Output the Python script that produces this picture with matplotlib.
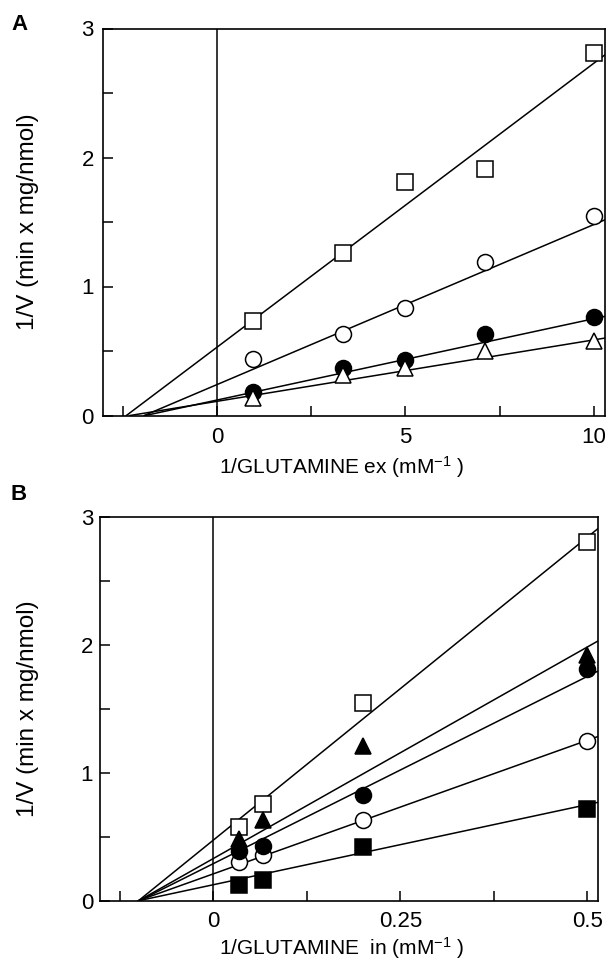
import matplotlib
matplotlib.use("Agg")
import matplotlib.pyplot as plt
import numpy as np

plt.rcParams['font.family'] = ['Liberation Sans', 'DejaVu Sans']
plt.rcParams['mathtext.fontset'] = 'custom'
plt.rcParams['mathtext.rm'] = 'Liberation Sans'
plt.rcParams['mathtext.it'] = 'Liberation Sans:italic'

# ---------------- Panel A data ----------------
a_x = [0.96, 3.33, 5.0, 7.11, 10.0]
a_sq_open = [0.735, 1.26, 1.81, 1.91, 2.81]
a_circ_open = [0.44, 0.63, 0.83, 1.19, 1.55]
a_circ_fill = [0.18, 0.365, 0.43, 0.63, 0.76]
a_tri_open = [0.135, 0.315, 0.37, 0.50, 0.58]
# fitted lines (slope, intercept)
a_slopes = [0.220, 0.1240, 0.0630, 0.0476]
a_intercepts = [0.530, 0.240, 0.120, 0.110]

# ---------------- Panel B data ----------------
b_x = [0.034, 0.067, 0.2, 0.5]
b_sq_open = [0.58, 0.76, 1.55, 2.81]
b_tri_fill = [0.48, 0.63, 1.21, 1.92]
b_circ_fill = [0.39, 0.43, 0.83, 1.81]
b_circ_open = [0.30, 0.36, 0.63, 1.25]
b_sq_fill = [0.12, 0.165, 0.42, 0.72]
b_slopes = [4.74, 3.31, 2.93, 2.09, 1.254]
b_intercepts = [0.474, 0.33, 0.29, 0.21, 0.125]

W, H = 610, 966
fig = plt.figure(figsize=(W / 100, H / 100), dpi=100)

def px_axes(left, top, right, bottom):
    return fig.add_axes([left / W, 1 - bottom / H, (right - left) / W, (bottom - top) / H])

LW = 1.1
MEW = 1.1
TICKSIZE = 16

def style(ax, xlim, xticks, xlabels, xlabel, xpad, ypad, xlab_px, ylab_x):
    ax.set_xlim(*xlim)
    ax.set_ylim(0, 3)
    ax.set_xticks(xticks)
    ax.set_xticklabels(xlabels)
    ax.set_yticks([0, 0.5, 1, 1.5, 2, 2.5, 3])
    ax.set_yticklabels(['0', '', '1', '', '2', '', '3'])
    ax.tick_params(axis='both', direction='in', length=7, width=1.1, labelsize=TICKSIZE)
    ax.tick_params(axis='x', pad=xpad)
    ax.tick_params(axis='y', pad=ypad)
    for s in ax.spines.values():
        s.set_linewidth(1.2)
    ax.axvline(0, color='black', lw=LW, zorder=1)
    # axis labels placed at pixel positions
    bb = ax.get_position()
    ax_left, ax_bottom = bb.x0 * W, (1 - bb.y0) * H
    ax_w, ax_h = bb.width * W, bb.height * H
    ax.set_xlabel(xlabel, fontsize=15)
    ax.xaxis.label.set_va('baseline')
    ax.xaxis.set_label_coords((xlab_px[0] - ax_left) / ax_w, -(xlab_px[1] - ax_bottom) / ax_h)
    ax.set_ylabel('1/V (min x mg/nmol)', fontsize=17.5)
    ax.yaxis.label.set_va('center')
    ax.yaxis.set_label_coords((ylab_x - ax_left) / ax_w, 0.5)

def fit_line(ax, slope, intercept, xmax):
    x0 = -intercept / slope
    xs = np.array([x0, xmax])
    ax.plot(xs, slope * xs + intercept, color='black', lw=LW, zorder=2)

MS_SQ, MS_CI, MS_TR = 11.5, 11.5, 12

# Panel A
axA = px_axes(103, 28.5, 605, 415.5)
xmaxA = 10.3
for s, i in zip(a_slopes, a_intercepts):
    fit_line(axA, s, i, xmaxA)
axA.plot(a_x, a_sq_open, ls='none', marker='s', ms=MS_SQ, mfc='white', mec='black', mew=MEW, zorder=3)
axA.plot(a_x, a_circ_open, ls='none', marker='o', ms=MS_CI, mfc='white', mec='black', mew=MEW, zorder=3)
axA.plot(a_x, a_circ_fill, ls='none', marker='o', ms=MS_CI, mfc='black', mec='black', mew=MEW, zorder=3)
axA.plot(a_x, a_tri_open, ls='none', marker='^', ms=MS_TR, mfc='white', mec='black', mew=MEW, zorder=4)
style(axA, (-3.03, xmaxA), [-2.5, 0, 2.5, 5, 7.5, 10], ['', '0', '', '5', '', '10'],
      r'1/GLUTAMINE ex (mM$^{\mathrm{-1}}$ )', 8, 6.5, (342, 474), 28)
fig.text(19 / W, 1 - 24.5 / H, 'A', fontsize=16, fontweight='bold', ha='center', va='center')

# Panel B
axB = px_axes(100, 517.3, 598.3, 900.7)
xmaxB = 0.5147
for s, i in zip(b_slopes, b_intercepts):
    fit_line(axB, s, i, xmaxB)
axB.plot(b_x, b_sq_open, ls='none', marker='s', ms=MS_SQ, mfc='white', mec='black', mew=MEW, zorder=3)
axB.plot(b_x, b_circ_open, ls='none', marker='o', ms=MS_CI, mfc='white', mec='black', mew=MEW, zorder=3)
axB.plot(b_x, b_circ_fill, ls='none', marker='o', ms=MS_CI, mfc='black', mec='black', mew=MEW, zorder=3)
axB.plot(b_x, b_tri_fill, ls='none', marker='^', ms=MS_TR, mfc='black', mec='black', mew=MEW, zorder=4)
axB.plot(b_x, b_sq_fill, ls='none', marker='s', ms=MS_SQ, mfc='black', mec='black', mew=MEW, zorder=3)
style(axB, (-0.1515, xmaxB), [-0.125, 0, 0.125, 0.25, 0.375, 0.5], ['', '0', '', '0.25', '', '0.5'],
      r'1/GLUTAMINE  in (mM$^{\mathrm{-1}}$ )', 7.5, 5, (342, 955), 28)
fig.text(19 / W, 1 - 494.5 / H, 'B', fontsize=16, fontweight='bold', ha='center', va='center')

fig.savefig('out.png', dpi=100)
